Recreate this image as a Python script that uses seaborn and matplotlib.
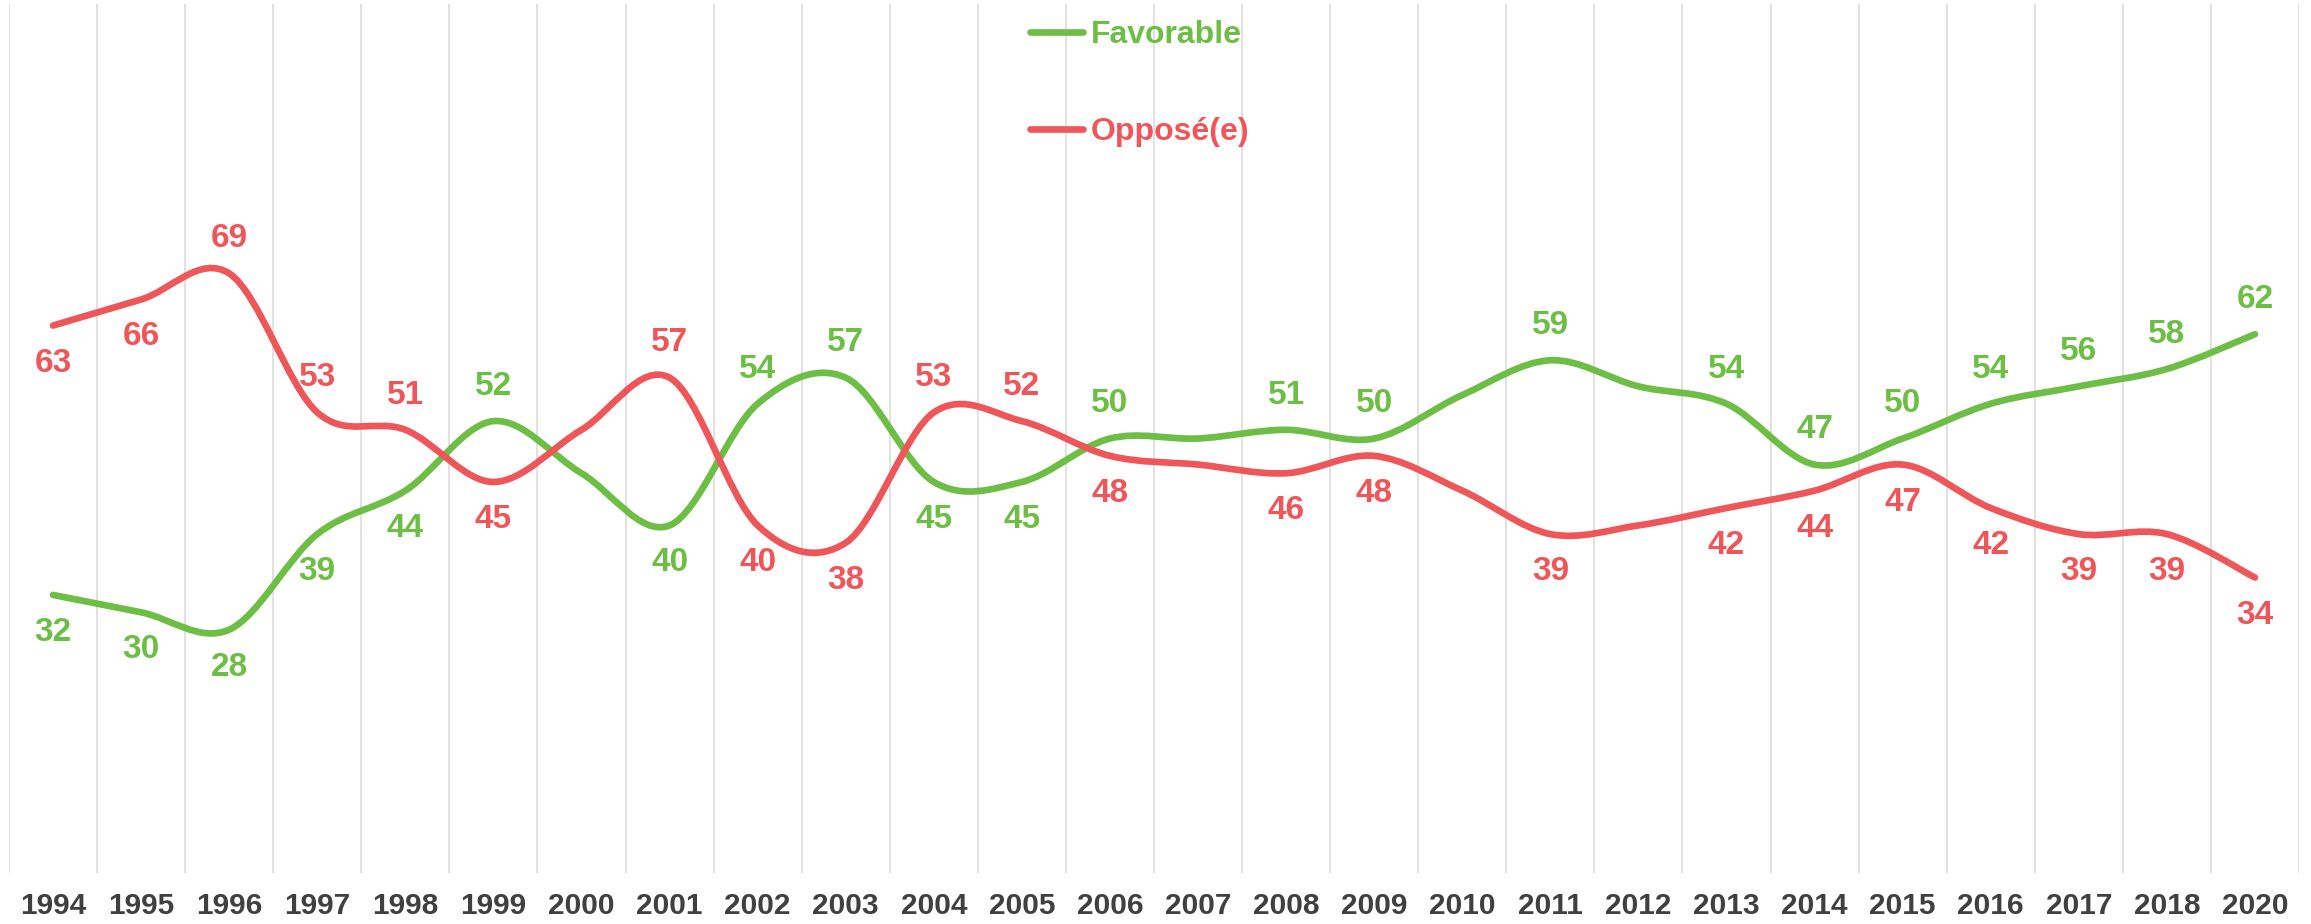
from __future__ import annotations

import matplotlib

matplotlib.use("Agg")

import matplotlib.pyplot as plt
import numpy as np
import pandas as pd
import seaborn as sns
from matplotlib.lines import Line2D
from matplotlib.patches import PathPatch
from matplotlib.path import Path


YEARS = [
    "1994", "1995", "1996", "1997", "1998", "1999", "2000", "2001", "2002",
    "2003", "2004", "2005", "2006", "2007", "2008", "2009", "2010", "2011",
    "2012", "2013", "2014", "2015", "2016", "2017", "2018", "2020",
]
FAVORABLE = [
    32, 30, 28, 39, 44, 52, 46, 40, 54, 57, 45, 45, 50,
    50, 51, 50, 55, 59, 56, 54, 47, 50, 54, 56, 58, 62,
]
OPPOSE = [
    63, 66, 69, 53, 51, 45, 51, 57, 40, 38, 53, 52, 48,
    47, 46, 48, 44, 39, 40, 42, 44, 47, 42, 39, 39, 34,
]
# which side of the point each value label sits on: a=above, b=below, -=none
FAV_SIDE = [
    "b", "b", "b", "b", "b", "a", "-", "b", "a", "a", "b", "b", "a",
    "-", "a", "a", "-", "a", "-", "a", "a", "a", "a", "a", "a", "a",
]
OPP_SIDE = [
    "b", "b", "a", "a", "a", "b", "-", "a", "b", "b", "a", "a", "b",
    "-", "b", "b", "-", "b", "-", "b", "b", "b", "b", "b", "b", "b",
]

GREEN = "#6DBE45"
RED = "#EF5659"
TEXT = "#404040"
GRID = "#DCDCDC"

W, H, DPI = 2311, 924, 100


def smooth_path(xs, ys) -> Path:
    # Excel-style smoothed line: cubic Bezier segments through every point
    pts = np.column_stack([xs, ys]).astype(float)
    n = len(pts)
    verts = [pts[0]]
    codes = [Path.MOVETO]
    for i in range(n - 1):
        p0, p3 = pts[i], pts[i + 1]
        pm = pts[i - 1] if i > 0 else p0
        p4 = pts[i + 2] if i + 2 < n else p3
        c1 = p0 + (p3 - pm) / 6.0
        c2 = p3 - (p4 - p0) / 6.0
        verts += [c1, c2, p3]
        codes += [Path.CURVE4] * 3
    return Path(verts, codes)


def main() -> None:
    sns.set_theme(style="white")
    plt.rcParams["font.family"] = ["Liberation Sans", "DejaVu Sans"]

    df = pd.DataFrame(
        {"year": YEARS, "Favorable": FAVORABLE, "Opposé(e)": OPPOSE}
    )
    xpos = np.arange(len(df))

    fig = plt.figure(figsize=(W / DPI, H / DPI), dpi=DPI)
    ax = fig.add_axes([9 / W, (H - 873) / H, (2299 - 9) / W, (873 - 4) / H])

    ax.set_xlim(-0.5, len(df) - 0.5)
    ax.set_ylim(0, 100)
    for b in np.arange(-0.5, len(df), 1.0):
        ax.axvline(b, color=GRID, lw=1.2, zorder=0)

    series = [
        ("Favorable", GREEN, FAV_SIDE),
        ("Opposé(e)", RED, OPP_SIDE),
    ]
    for name, color, sides in series:
        patch = PathPatch(
            smooth_path(xpos, df[name].values),
            facecolor="none",
            edgecolor=color,
            lw=4.8,
            capstyle="round",
            joinstyle="round",
            zorder=3,
        )
        ax.add_patch(patch)
        for x, v, side in zip(xpos, df[name].values, sides):
            if side == "-":
                continue
            dy = 25 if side == "a" else -27
            ax.annotate(
                f"{v}",
                (x, v),
                xytext=(0, dy),
                textcoords="offset points",
                ha="center",
                va="center",
                fontsize=24,
                fontweight="bold",
                color=color,
                zorder=4,
            )

    ax.set_xticks(xpos)
    ax.set_xticklabels(df["year"], fontsize=21.5, fontweight="bold", color=TEXT)
    ax.tick_params(axis="x", length=0, pad=14)
    ax.set_yticks([])
    sns.despine(ax=ax, left=True, bottom=True)

    handles = [
        Line2D([], [], color=GREEN, lw=4.8, solid_capstyle="round"),
        Line2D([], [], color=RED, lw=4.8, solid_capstyle="round"),
    ]
    leg = fig.legend(
        handles,
        ["Favorable", "Opposé(e)"],
        loc="upper left",
        bbox_to_anchor=(1030 / W, 1 - 20 / H),
        frameon=False,
        prop={"size": 23, "weight": "bold"},
        handlelength=1.65,
        handletextpad=0.25,
        labelspacing=2.1,
        borderpad=0,
        borderaxespad=0,
    )
    for txt, c in zip(leg.get_texts(), [GREEN, RED]):
        txt.set_color(c)

    fig.savefig("out.png", dpi=DPI)
    plt.close(fig)


if __name__ == "__main__":
    main()
